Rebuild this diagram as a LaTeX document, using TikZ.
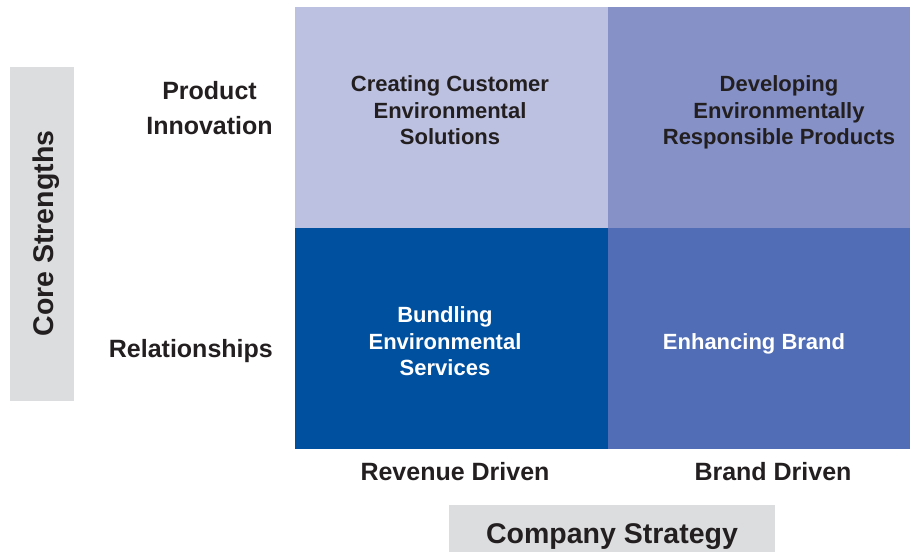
\documentclass[tikz,border=0pt]{standalone}
\usepackage{fontspec}
\setmainfont{Liberation Sans}
\definecolor{qtl}{HTML}{BDC1E1}
\definecolor{qtr}{HTML}{8591C7}
\definecolor{qbl}{HTML}{0050A0}
\definecolor{qbr}{HTML}{516DB5}
\definecolor{axisgray}{HTML}{DCDDDF}
\definecolor{ink}{HTML}{231F20}
\tikzset{
  quad/.style={fill=#1, draw=none},
  qtext/.style={inner sep=0pt, align=center, font=\bfseries\fontsize{22}{26.5}\selectfont},
  axlabel/.style={inner sep=0pt, text=ink, font=\bfseries\fontsize{25}{35}\selectfont},
  title/.style={inner sep=0pt, text=ink, font=\bfseries\fontsize{28.5}{34}\selectfont},
}
\begin{document}
\begin{tikzpicture}[x=1pt,y=-1pt]
\useasboundingbox (0,0) rectangle (910,552);
% quadrants
\fill[qtl] (295,7) rectangle (608,228);
\fill[qtr] (608,7) rectangle (910,228);
\fill[qbl] (295,228) rectangle (608,449);
\fill[qbr] (608,228) rectangle (910,449);
% gray axis boxes
\fill[axisgray] (10,67) rectangle (74,401);
\fill[axisgray] (449,505) rectangle (775,552);
% quadrant texts
\node[qtext, text=ink] (tl) at (450,110.5) {Creating Customer\\Environmental\\Solutions};
\node[qtext, text=ink] (tr) at (779,112.8) {Developing\\Environmentally\\Responsible Products};
\node[qtext, text=white] (bl) at (445,341.5) {Bundling\\Environmental\\Services};
\node[qtext, text=white, anchor=base] (br) at (754,349) {Enhancing Brand};
% row labels
\node[axlabel, align=center] (pi) at (209.5,108) {Product\\Innovation};
\node[axlabel, anchor=base east] (rel) at (273,357) {Relationships};
% column labels
\node[axlabel, anchor=base] (rev) at (455,480) {Revenue Driven};
\node[axlabel, anchor=base] (brd) at (773,480) {Brand Driven};
% axis titles
\node[title, anchor=base] (cs) at (612,543) {Company Strategy};
\node[title, anchor=base, rotate=90] (core) at (53,233.5) {Core Strengths};
\end{tikzpicture}
\end{document}
